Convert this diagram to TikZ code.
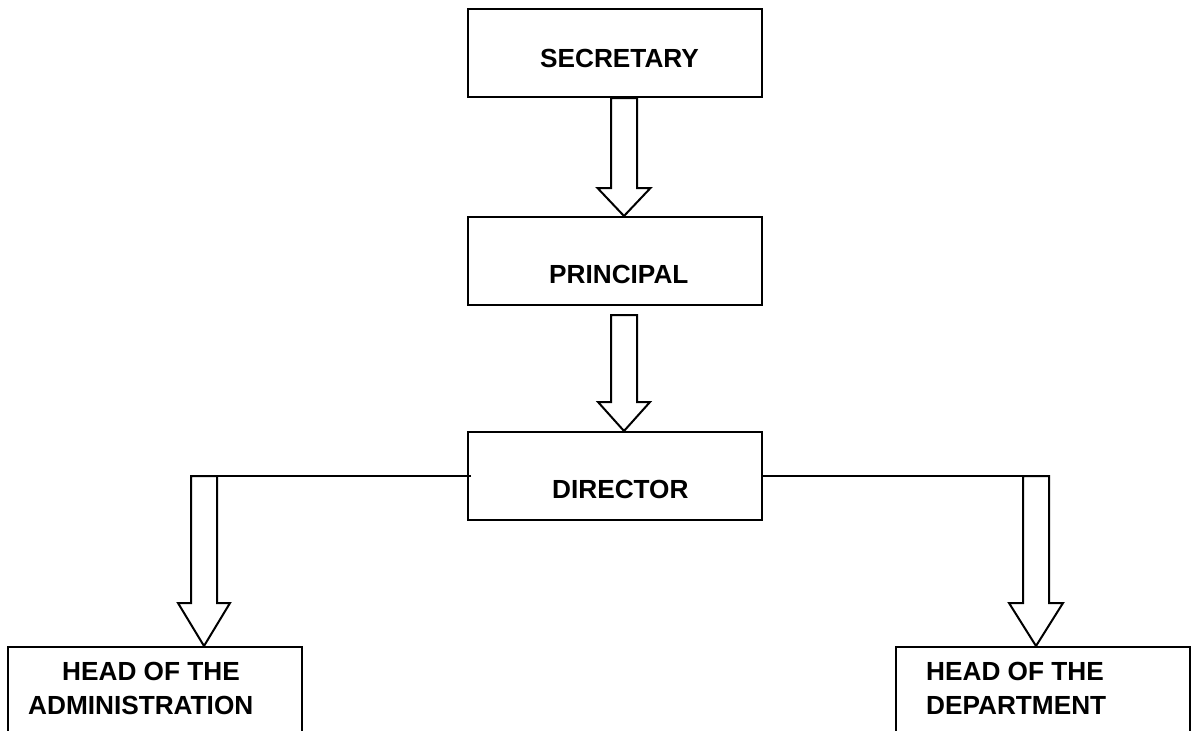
\documentclass[tikz,border=0pt]{standalone}
\usepackage{fontspec}
\setmainfont{Liberation Sans}
\usetikzlibrary{calc}
\tikzset{
  box/.style={draw=black, line width=2pt, minimum width=294pt, minimum height=88pt, inner sep=0pt},
  lowbox/.style={box, minimum height=113pt},
  lbl/.style={anchor=base west, inner sep=0pt, font=\bfseries\fontsize{26.2}{30}\selectfont},
  conn/.style={draw=black, line width=2pt, line join=miter},
}
\newcommand\hollowarrow[4]{% start, tip, head length, head half width
  \draw[conn] let \p1=(#1), \p2=(#2) in
    (\x1-13pt,\y1) -- (\x1-13pt,\y2+#3) -- (\x1-#4,\y2+#3) -- (\x2,\y2)
    -- (\x1+#4,\y2+#3) -- (\x1+13pt,\y2+#3) -- (\x1+13pt,\y1) -- cycle;
}
\begin{document}
\begin{tikzpicture}[x=1pt,y=-1pt]
\useasboundingbox (0,0) rectangle (1192,731);
% boxes
\node[box] (sec) at (615,53) {};
\node[box] (pri) at (615,261) {};
\node[box] (dir) at (615,476) {};
\node[lowbox] (adm) at (155,703.5) {};
\node[lowbox] (dep) at (1043,703.5) {};
% labels
\node[lbl] (tsec) at (540,67) {SECRETARY};
\node[lbl] (tpri) at (549,283) {PRINCIPAL};
\node[lbl] (tdir) at (552,498) {DIRECTOR};
\node[lbl] (tadm1) at (62,680) {HEAD OF THE};
\node[lbl] (tadm2) at (28,714) {ADMINISTRATION};
\node[lbl] (tdep1) at (926,680) {HEAD OF THE};
\node[lbl] (tdep2) at (926,714) {DEPARTMENT};
% arrow coordinates
\coordinate (a1s) at (sec.south -| 624,0);
\coordinate (a1t) at (pri.north -| 624,0);
\coordinate (a2s) at (624,315);
\coordinate (a2t) at (dir.north -| 624,0);
\coordinate (ls) at (204,476);
\coordinate (lt) at (adm.north -| 204,0);
\coordinate (rs) at (1036,476);
\coordinate (rt) at (dep.north -| 1036,0);
% arrows
\hollowarrow{a1s}{a1t}{28pt}{26.5pt}
\hollowarrow{a2s}{a2t}{29pt}{26pt}
\hollowarrow{ls}{lt}{43pt}{26pt}
\hollowarrow{rs}{rt}{43pt}{27pt}
% horizontal connectors
\draw[conn] ([xshift=4pt]dir.west) -- ([xshift=-13pt]ls);
\draw[conn] (dir.east) -- ([xshift=13pt]rs);
\end{tikzpicture}
\end{document}
